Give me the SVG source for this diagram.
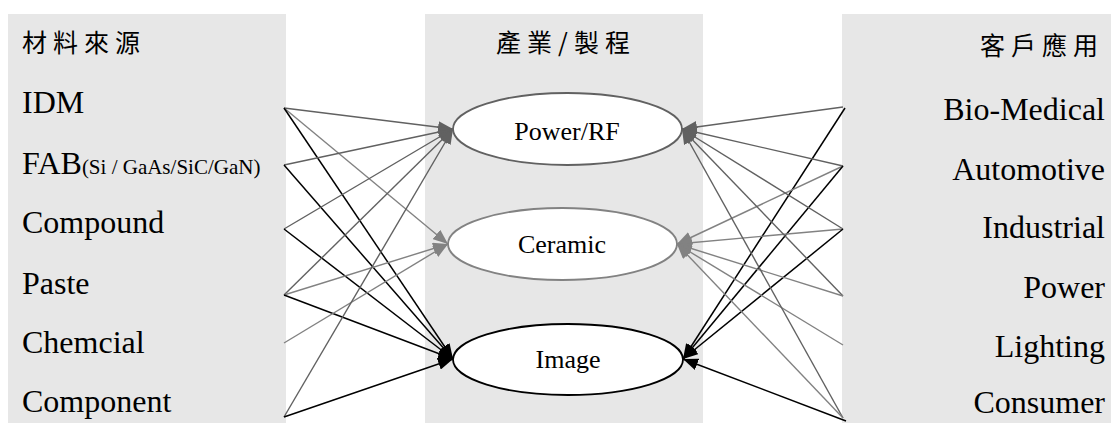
<svg xmlns="http://www.w3.org/2000/svg" width="1111" height="423" viewBox="0 0 1111 423">
<style>
.panel{fill:#e7e7e7}
.t{font-family:"Liberation Serif","Times New Roman",serif;fill:#000}
.lbl{font-size:32px}
.cjk{font-family:"Noto Sans CJK TC","Noto Sans CJK SC",sans-serif;font-size:25px;fill:#000;letter-spacing:6px}
.ell{fill:#fff;stroke-width:1.8}
.nt{font-size:26px}
.c1{stroke:#616161;stroke-width:1.4;fill:none;marker-end:url(#a1)}
.c2{stroke:#828282;stroke-width:1.4;fill:none;marker-end:url(#a2)}
.c3{stroke:#000;stroke-width:1.5;fill:none;marker-end:url(#a3)}
</style>
<defs>
<marker id="a1" markerUnits="userSpaceOnUse" markerWidth="16" markerHeight="12" refX="15" refY="6" orient="auto"><path d="M0,0 L15,6 L0,12 z" fill="#616161"/></marker>
<marker id="a2" markerUnits="userSpaceOnUse" markerWidth="16" markerHeight="12" refX="15" refY="6" orient="auto"><path d="M0,0 L15,6 L0,12 z" fill="#828282"/></marker>
<marker id="a3" markerUnits="userSpaceOnUse" markerWidth="16" markerHeight="12" refX="15" refY="6" orient="auto"><path d="M0,0 L15,6 L0,12 z" fill="#000"/></marker>
</defs>
<rect width="1111" height="423" fill="#fff"/>
<rect class="panel" x="8" y="14" width="278" height="409"/>
<rect class="panel" x="425" y="14" width="278" height="409"/>
<rect class="panel" x="842" y="14" width="269" height="409"/>

<g id="col-source">
<text class="cjk" x="22" y="52">材料來源</text>
<text class="t lbl" x="22" y="113">IDM</text>
<text class="t lbl" x="22" y="174">FAB<tspan font-size="21">(Si / GaAs/SiC/GaN)</tspan></text>
<text class="t lbl" x="22" y="233">Compound</text>
<text class="t lbl" x="22" y="294">Paste</text>
<text class="t lbl" x="22" y="353">Chemcial</text>
<text class="t lbl" x="22" y="412">Component</text>
</g>

<g id="col-industry">
<text class="cjk" x="566" y="52" text-anchor="middle">產業/製程</text>
</g>

<g id="col-customer">
<text class="cjk" x="1104" y="55" text-anchor="end">客戶應用</text>
<text class="t lbl" x="1105" y="120" text-anchor="end">Bio-Medical</text>
<text class="t lbl" x="1105" y="180" text-anchor="end">Automotive</text>
<text class="t lbl" x="1105" y="238" text-anchor="end">Industrial</text>
<text class="t lbl" x="1105" y="298" text-anchor="end">Power</text>
<text class="t lbl" x="1105" y="357" text-anchor="end">Lighting</text>
<text class="t lbl" x="1105" y="413" text-anchor="end">Consumer</text>
</g>

<g id="connectors">
<line class="c1" x1="284" y1="108" x2="453" y2="129"/>
<line class="c2" x1="284" y1="108" x2="448" y2="244"/>
<line class="c3" x1="284" y1="108" x2="453" y2="359"/>
<line class="c1" x1="284" y1="165" x2="453" y2="129"/>
<line class="c3" x1="284" y1="165" x2="453" y2="359"/>
<line class="c1" x1="284" y1="229" x2="453" y2="129"/>
<line class="c3" x1="284" y1="229" x2="453" y2="359"/>
<line class="c1" x1="284" y1="295" x2="453" y2="129"/>
<line class="c2" x1="284" y1="295" x2="448" y2="244"/>
<line class="c3" x1="284" y1="295" x2="453" y2="359"/>
<line class="c2" x1="284" y1="343" x2="448" y2="244"/>
<line class="c1" x1="284" y1="417" x2="453" y2="129"/>
<line class="c3" x1="284" y1="417" x2="453" y2="359"/>

<line class="c1" x1="843" y1="107" x2="682" y2="129"/>
<line class="c3" x1="845" y1="108" x2="683" y2="359"/>
<line class="c1" x1="843" y1="166" x2="682" y2="129"/>
<line class="c2" x1="843" y1="166" x2="677" y2="244"/>
<line class="c3" x1="843" y1="166" x2="683" y2="359"/>
<line class="c1" x1="843" y1="229" x2="682" y2="129"/>
<line class="c2" x1="843" y1="229" x2="677" y2="244"/>
<line class="c3" x1="843" y1="229" x2="683" y2="359"/>
<line class="c1" x1="843" y1="296" x2="682" y2="129"/>
<line class="c2" x1="843" y1="296" x2="677" y2="244"/>
<line class="c2" x1="843" y1="345" x2="677" y2="244"/>
<line class="c1" x1="843" y1="418" x2="682" y2="129"/>
<line class="c2" x1="843" y1="418" x2="677" y2="244"/>
<line class="c3" x1="846" y1="421" x2="683" y2="359"/>
</g>

<g id="node-powerrf">
<ellipse class="ell" cx="567.5" cy="129" rx="114.5" ry="36" stroke="#616161"/>
<text class="t nt" x="567" y="140" text-anchor="middle">Power/RF</text>
</g>
<g id="node-ceramic">
<ellipse class="ell" cx="562.5" cy="244" rx="114.5" ry="36" stroke="#828282"/>
<text class="t nt" x="562" y="253" text-anchor="middle">Ceramic</text>
</g>
<g id="node-image">
<ellipse class="ell" cx="568" cy="359.5" rx="115" ry="35.5" stroke="#000"/>
<text class="t nt" x="568" y="368" text-anchor="middle">Image</text>
</g>
</svg>
